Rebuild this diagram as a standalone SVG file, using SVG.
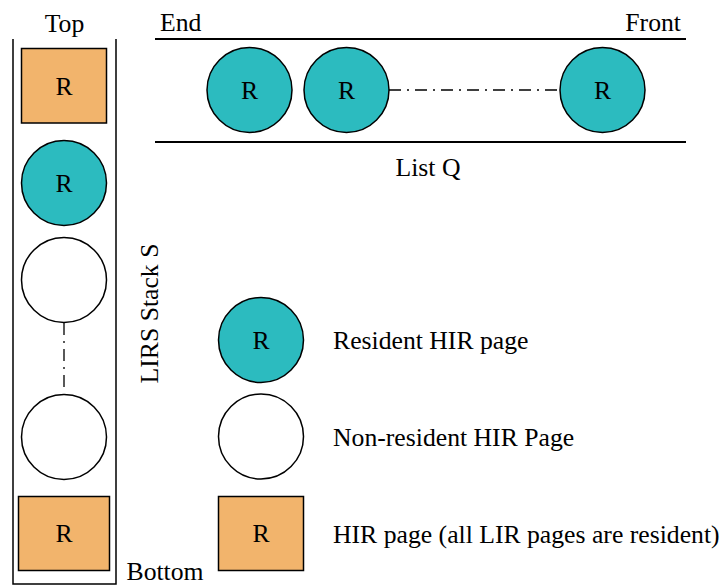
<svg xmlns="http://www.w3.org/2000/svg" width="722" height="585" viewBox="0 0 722 585">
<style>
text{font-family:"Liberation Serif","Times New Roman",serif;font-size:25.7px;fill:#000}
.c{text-anchor:middle}
.teal{fill:#2cbbbf;stroke:#000;stroke-width:1.5}
.white{fill:#fff;stroke:#000;stroke-width:1.5}
.orange{fill:#f2b46c;stroke:#000;stroke-width:1.5}
.dd{stroke:#000;stroke-width:1.3;fill:none;stroke-dasharray:12 6 2 6}
</style>
<rect width="722" height="585" fill="#fff"/>
<g id="stack">
<path d="M13,39 V584 H116 V39" fill="none" stroke="#000" stroke-width="1.5"/>
<text class="c" x="64.5" y="32">Top</text>
<text x="126.5" y="580">Bottom</text>
<text class="c" transform="translate(158,313.5) rotate(-90)">LIRS Stack S</text>
</g>
<g id="listq">
<line x1="155" y1="39" x2="686" y2="39" stroke="#000" stroke-width="2"/>
<line x1="155" y1="142" x2="686" y2="142" stroke="#000" stroke-width="2"/>
<text x="160" y="31">End</text>
<text x="681" y="31" text-anchor="end">Front</text>
<text class="c" x="428" y="176">List Q</text>
</g>
<g id="connectors">
<line class="dd" x1="389" y1="90" x2="560" y2="90"/>
<line class="dd" x1="64" y1="323" x2="64" y2="391"/>
</g>
<g id="s1"><rect class="orange" x="21.5" y="48.5" width="85" height="74.5"/><text class="c" x="64" y="94.5">R</text></g>
<g id="s2"><circle class="teal" cx="64" cy="183" r="42.5"/><text class="c" x="64" y="191.5">R</text></g>
<g id="s3"><circle class="white" cx="64" cy="280" r="42.5"/></g>
<g id="s4"><circle class="white" cx="64" cy="437" r="42.5"/></g>
<g id="s5"><rect class="orange" x="18.5" y="496.5" width="91" height="74"/><text class="c" x="64" y="542">R</text></g>
<g id="q1"><circle class="teal" cx="249.5" cy="90" r="42.5"/><text class="c" x="249.5" y="98.5">R</text></g>
<g id="q2"><circle class="teal" cx="346.5" cy="90" r="42.5"/><text class="c" x="346.5" y="98.5">R</text></g>
<g id="q3"><circle class="teal" cx="602.5" cy="90" r="42.5"/><text class="c" x="602.5" y="98.5">R</text></g>
<g id="legend1"><circle class="teal" cx="261" cy="340" r="42.5"/><text class="c" x="261" y="348.5">R</text><text x="333" y="349">Resident HIR page</text></g>
<g id="legend2"><circle class="white" cx="261" cy="436.5" r="42.5"/><text x="333" y="445.5">Non-resident HIR Page</text></g>
<g id="legend3"><rect class="orange" x="218.5" y="496.5" width="85" height="74"/><text class="c" x="261" y="542">R</text><text x="333" y="543">HIR page (all LIR pages are resident)</text></g>
</svg>
